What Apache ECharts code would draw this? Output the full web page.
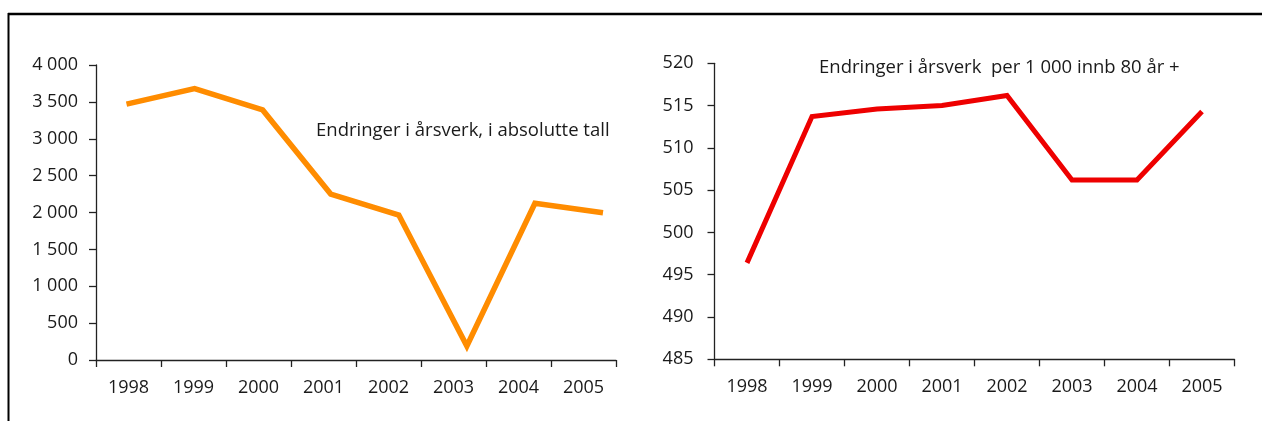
<!DOCTYPE html>
<html><head><meta charset="utf-8">
<script src="https://cdn.jsdelivr.net/npm/echarts@6/dist/echarts.min.js"></script>
<style>html,body{margin:0;padding:0;background:#fff}#c{width:1262px;height:421px}</style>
</head><body><div id="c"></div>
<script>
const years = ['1998', '1999', '2000', '2001', '2002', '2003', '2004', '2005'];
const absChange = [3470, 3680, 3390, 2250, 1966, 190, 2125, 1997];
const perThousand = [496.4, 513.7, 514.6, 515.0, 516.2, 506.2, 506.2, 514.3];
const leftTitle = 'Endringer i årsverk, i absolutte tall';
const rightTitle = 'Endringer i årsverk  per 1 000 innb 80 år +';

const FONT = '"Open Sans", sans-serif';
const TXT = '#1a1a1a';
const AX = '#222';

function thousands(v) {
  return String(v).replace(/\B(?=(\d{3})+(?!\d))/g, ' ');
}

const axisLineStyle = { lineStyle: { color: AX, width: 1.3 } };
const tickStyle = { show: true, length: 7, lineStyle: { color: AX, width: 1.3 } };

const chart = echarts.init(document.getElementById('c'), null, { renderer: 'canvas' });
chart.setOption({
  animation: false,
  backgroundColor: '#fff',
  grid: [
    { left: 96, top: 65, width: 520, height: 295 },
    { left: 126.5, top: 65, width: 476.5, height: 295 },
    { left: 714.5, top: 63.3, width: 520, height: 296 }
  ],
  xAxis: [
    { type: 'category', gridIndex: 0, data: years, boundaryGap: true,
      axisLine: axisLineStyle, axisTick: tickStyle,
      axisLabel: { color: TXT, fontSize: 18, fontFamily: FONT, margin: 19 } },
    { type: 'category', gridIndex: 1, data: years, boundaryGap: false, show: false },
    { type: 'category', gridIndex: 2, data: years, boundaryGap: true,
      axisLine: axisLineStyle, axisTick: tickStyle,
      axisLabel: { color: TXT, fontSize: 18, fontFamily: FONT, margin: 19 } }
  ],
  yAxis: [
    { type: 'value', gridIndex: 0, min: 0, max: 4000, interval: 500,
      axisLine: Object.assign({ show: true }, axisLineStyle), axisTick: tickStyle,
      splitLine: { show: false },
      axisLabel: { color: TXT, fontSize: 18, fontFamily: FONT, margin: 18, formatter: thousands } },
    { type: 'value', gridIndex: 1, min: 0, max: 4000, show: false, splitLine: { show: false } },
    { type: 'value', gridIndex: 2, min: 485, max: 520, interval: 5,
      axisLine: Object.assign({ show: true }, axisLineStyle), axisTick: tickStyle,
      splitLine: { show: false },
      axisLabel: { color: TXT, fontSize: 18, fontFamily: FONT, margin: 21 } }
  ],
  series: [
    { type: 'line', xAxisIndex: 1, yAxisIndex: 1, data: absChange, symbol: 'none',
      lineStyle: { color: '#FF8C00', width: 5.5, join: 'miter' } },
    { type: 'line', xAxisIndex: 2, yAxisIndex: 2, data: perThousand, symbol: 'none',
      lineStyle: { color: '#EE0000', width: 5, join: 'miter' } }
  ],
  graphic: [
    { type: 'line', shape: { x1: 8, y1: 14, x2: 1262, y2: 14 }, style: { stroke: '#000', lineWidth: 2.5 } },
    { type: 'line', shape: { x1: 8.5, y1: 13, x2: 8.5, y2: 421 }, style: { stroke: '#000', lineWidth: 2 } },
    { type: 'text', left: 316, top: 121, style: { text: leftTitle, fill: TXT, font: '18.5px ' + FONT } },
    { type: 'text', left: 819, top: 58, style: { text: rightTitle, fill: TXT, font: '18.5px ' + FONT } }
  ]
});
</script>
</body></html>
